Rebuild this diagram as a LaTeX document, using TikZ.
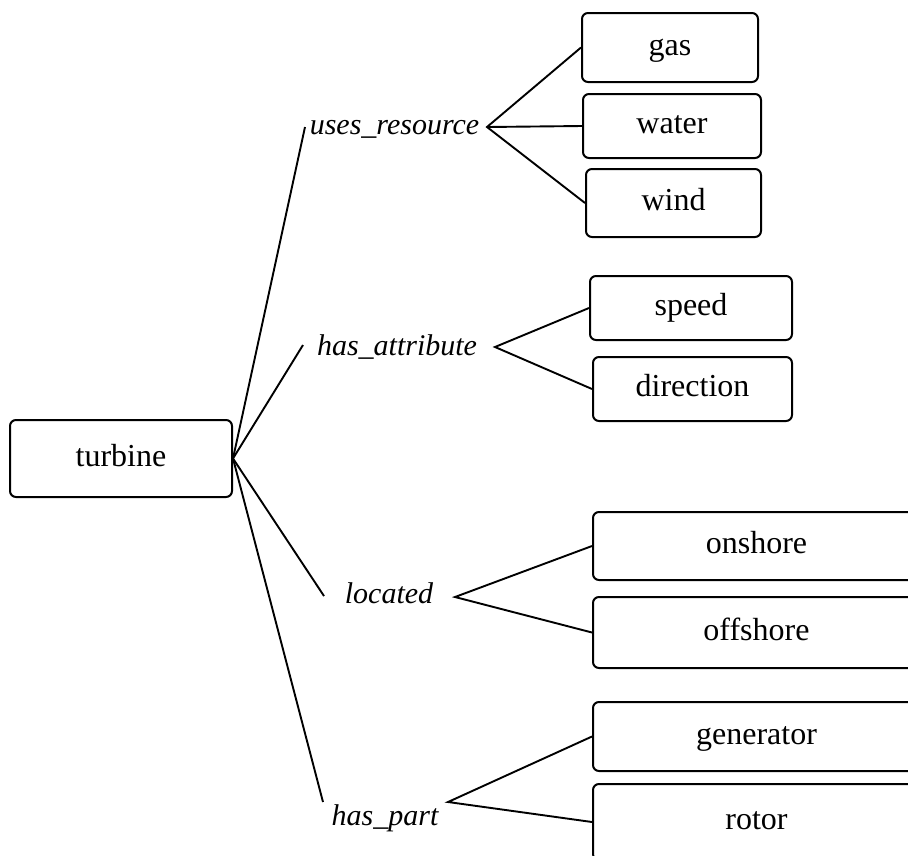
\documentclass[tikz,border=0pt]{standalone}
\usepackage{fontspec}
\setmainfont{Liberation Serif}
\begin{document}
\begin{tikzpicture}[x=1pt,y=-1pt,
  box/.style={draw, line width=2pt, rounded corners=6pt,
    font=\fontsize{32}{38}\selectfont, inner sep=0pt,
    text height=22pt, text depth=7pt},
  rel/.style={font=\fontsize{30}{36}\selectfont\itshape, inner sep=0pt,
    text height=21pt, text depth=7pt},
  link/.style={line width=1.9pt, line join=miter}]
\useasboundingbox (0,0) rectangle (908,855);

% boxes
\node[box, minimum width=222pt, minimum height=77pt] (turbine) at (121,458.5) {turbine};
\node[box, minimum width=176pt, minimum height=69pt] (gas) at (670,47.5) {gas};
\node[box, minimum width=178pt, minimum height=64pt] (water) at (672,126) {water};
\node[box, minimum width=175pt, minimum height=68pt] (wind) at (673.5,203) {wind};
\node[box, minimum width=202pt, minimum height=64pt] (speed) at (691,308) {speed};
\node[box, minimum width=199pt, minimum height=64pt] (direction) at (692.5,389) {direction};
\node[box, minimum width=327pt, minimum height=68pt] (onshore) at (756.5,546) {onshore};
\node[box, minimum width=327pt, minimum height=71pt] (offshore) at (756.5,632.5) {offshore};
\node[box, minimum width=327pt, minimum height=69pt] (generator) at (756.5,736.5) {generator};
\node[box, minimum width=327pt, minimum height=76pt] (rotor) at (756.5,822) {rotor};

% relation labels
\node[rel] (ur) at (394.5,127) {uses\_resource};
\node[rel] (ha) at (397,348) {has\_attribute};
\node[rel] (lo) at (389,596) {located};
\node[rel] (hp) at (385,818) {has\_part};

% connector ends
\coordinate (urin) at (305,127);
\coordinate (urout) at (487,127);
\coordinate (hain) at (303,345);
\coordinate (haout) at (495,347);
\coordinate (loin) at (324,596);
\coordinate (loout) at (455,597);
\coordinate (hpin) at (323,802);
\coordinate (hpout) at (448,802);

% connectors from turbine
\draw[link] (turbine.east) -- (urin);
\draw[link] (turbine.east) -- (hain);
\draw[link] (turbine.east) -- (loin);
\draw[link] (turbine.east) -- (hpin);

% connectors to children
\draw[link] (gas.west) -- (urout) -- (wind.west);
\draw[link] (urout) -- (water.west);
\draw[link] (speed.west) -- (haout) -- (direction.west);
\draw[link] (onshore.west) -- (loout) -- (offshore.west);
\draw[link] (generator.west) -- (hpout) -- (rotor.west);
\end{tikzpicture}
\end{document}
